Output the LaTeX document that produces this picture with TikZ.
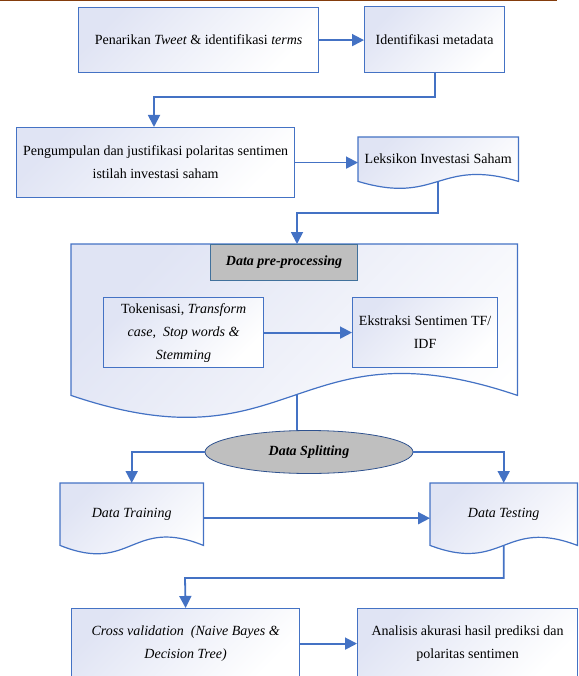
\documentclass[tikz,border=0pt]{standalone}
\usepackage{fontspec}
\setmainfont{Liberation Serif}
\usetikzlibrary{arrows.meta,calc,shapes.geometric,backgrounds}

\definecolor{flowblue}{RGB}{68,114,196}
\definecolor{lav}{RGB}{224,228,244}
\definecolor{hdrgray}{RGB}{191,191,191}
\definecolor{hdredge}{RGB}{65,113,156}
\definecolor{ovaledge}{RGB}{47,82,143}
\definecolor{rulebrown}{RGB}{132,60,12}

\tikzset{
  flowfill/.style={top color=lav, bottom color=white, shading angle=45},
  procbox/.style={draw=flowblue, line width=1.2pt, flowfill, align=center,
                  inner sep=2pt, anchor=north west},
  docbody/.style={align=center, inner sep=0pt, anchor=north west},
  docedge/.style={draw=flowblue, line width=1.2pt, flowfill},
  flow/.style={draw=flowblue, line width=1.8pt, -{Triangle[length=12pt,width=12pt]}},
  link/.style={draw=flowblue, line width=1.8pt},
  headbox/.style={draw=hdredge, line width=1.1pt, fill=hdrgray, anchor=north west,
                  font=\fontsize{14}{23}\selectfont\bfseries\itshape},
}

% document symbol: flat top, wavy bottom through the node's south corners
\newcommand{\docoutline}[2]{%
  \path[docedge] (#1.north west) -- (#1.north east) -- (#1.south east)
    .. controls ($(#1.south)+(0,-#2)$) and ($(#1.south)+(0,#2)$) .. (#1.south west) -- cycle;}

\begin{document}
\begin{tikzpicture}[x=1pt,y=-1pt, every node/.style={font=\fontsize{14}{23}\selectfont}]
\useasboundingbox (0,0) rectangle (578,676);

% header rule
\draw[rulebrown, line width=1.5pt] (0,0.75) -- (557,0.75);

% process boxes and document bodies
\node[procbox, minimum width=240pt, minimum height=65pt] (box1) at (78,7)
  {Penarikan \textit{Tweet} \& identifikasi \textit{terms}};
\node[procbox, minimum width=140pt, minimum height=66pt] (box2) at (364,6)
  {Identifikasi metadata};
\node[procbox, minimum width=278pt, minimum height=70pt] (box3) at (16,127)
  {Pengumpulan dan justifikasi polaritas sentimen\\istilah investasi saham};
\node[docbody, minimum width=160pt, minimum height=44pt] (lek) at (358,137)
  {Leksikon Investasi Saham};
\node[docbody, minimum width=446pt, minimum height=151pt] (big) at (71,244) {};
\node[headbox, minimum width=147pt, minimum height=36pt] (head) at (210,244)
  {Data pre-processing};
\node[procbox, minimum width=160pt, minimum height=70pt] (tok) at (103,297)
  {Tokenisasi, \textit{Transform}\\\textit{case,\ \ Stop words \&}\\\textit{Stemming}};
\node[procbox, minimum width=145pt, minimum height=70pt] (ext) at (352,297)
  {Ekstraksi Sentimen TF/\\IDF};
\node[ellipse, draw=ovaledge, line width=0.8pt, fill=hdrgray, inner sep=0pt,
      minimum width=208pt, minimum height=43pt,
      font=\fontsize{14}{23}\selectfont\bfseries\itshape] (split) at (309,452)
  {Data Splitting};
\node[docbody, minimum width=143pt, minimum height=62pt] (train) at (60,483)
  {\textit{Data Training}};
\node[docbody, minimum width=147pt, minimum height=62pt] (test) at (430,483)
  {\textit{Data Testing}};
\node[procbox, minimum width=228pt, minimum height=70pt] (cv) at (71,608)
  {\textit{Cross validation\ \ (Naive Bayes \&}\\\textit{Decision Tree)}};
\node[procbox, minimum width=220pt, minimum height=70pt] (ana) at (357,608)
  {Analisis akurasi hasil prediksi dan\\polaritas sentimen};

% bend points
\coordinate (j1) at (154,97);
\coordinate (j2) at (297,213);
\coordinate (j3) at (185,578);

% connectors leaving a document symbol start under its fill
\begin{scope}[on background layer]
  \draw[flow] (lek.center) |- (j2) -- (j2 |- big.north);
  \draw[link] (j2 |- big.center) -- (j2 |- split.center);
  \draw[flow] (test.center) |- (j3) -- (cv.north);
  \docoutline{lek}{24}
  \docoutline{big}{76}
  \docoutline{train}{29}
  \docoutline{test}{28}
\end{scope}

% remaining connectors
\draw[flow] (box1.east) -- (box1.east -| box2.west);
\draw[flow] (box2.south) |- (j1) -- (j1 |- box3.north);
\draw[flow] (box3.east) -- (box3.east -| lek.west);
\draw[flow] (tok.east) -- (tok.east -| ext.west);
\draw[flow] (split.west) -| (train.north);
\draw[flow] (split.east) -| (test.north);
\draw[flow] ($(train.east)+(0,4)$) -- ($(test.west)+(0,4)$);
\draw[flow] (cv.east) -- (cv.east -| ana.west);
\end{tikzpicture}
\end{document}
